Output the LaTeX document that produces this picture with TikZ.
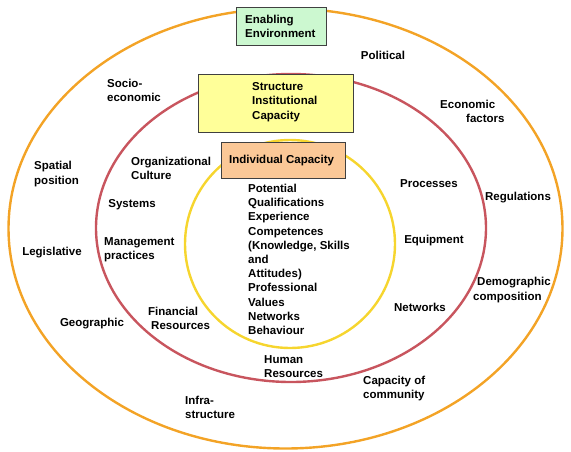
\documentclass[tikz,border=0pt]{standalone}
\usepackage{fontspec}
\setmainfont{Liberation Sans}
\definecolor{ringorange}{HTML}{F3A326}
\definecolor{ringred}{HTML}{C8555E}
\definecolor{ringyellow}{HTML}{F6D52E}
\definecolor{boxgreen}{HTML}{CCF8D0}
\definecolor{boxyellow}{HTML}{FFFF99}
\definecolor{boxorange}{HTML}{FBC897}
\tikzset{
  ring/.style={line width=2.4pt},
  lbl/.style={font=\fontsize{11.5}{14.2}\selectfont\bfseries, align=left, inner sep=0pt, text=black},
  hbox/.style={draw=black!75, line width=0.8pt, inner sep=0pt},
}
\begin{document}
\begin{tikzpicture}[x=1pt,y=-1pt]
\useasboundingbox (0,0) rectangle (571,451);
% rings
\draw[ring, ringorange] (285.5,228.5) ellipse [x radius=277, y radius=220];
\draw[ring, ringred] (291,228) ellipse [x radius=195, y radius=154];
\draw[ring, ringyellow] (290,244) ellipse [x radius=105, y radius=104];
% header boxes
\node[hbox, fill=boxgreen, minimum width=90pt, minimum height=38pt] (env) at (281,26) {};
\node[lbl, anchor=west] (envt) at (245,26) {Enabling\\Environment};
\node[hbox, fill=boxyellow, minimum width=155pt, minimum height=58pt] (str) at (275.5,103) {};
\node[lbl, anchor=west] (strt) at (252,102) {Structure\\Institutional\\Capacity};
\node[hbox, fill=boxorange, minimum width=124pt, minimum height=36pt] (ind) at (283,160) {};
\node[lbl, anchor=west] (indt) at (229,160.5) {Individual Capacity};
% individual list
\node[lbl, anchor=north west] (list) at (248,184) {Potential\\Qualifications\\Experience\\Competences\\(Knowledge, Skills\\and\\Attitudes)\\Professional\\Values\\Networks\\Behaviour};
% outer ring labels
\node[lbl] (pol) at (383,55) {Political};
\node[lbl, anchor=west] (eco) at (440,111.5) {Economic\\\hspace*{26pt}factors};
\node[lbl] (reg) at (518,198) {Regulations};
\node[lbl, anchor=west] (dem) at (473,290) {\hspace*{4pt}Demographic\\composition};
\node[lbl, anchor=west] (cap) at (363,388.5) {Capacity of\\community};
\node[lbl, anchor=west] (inf) at (185,407) {Infra-\\structure};
\node[lbl] (geo) at (92,324) {Geographic};
\node[lbl] (leg) at (52,253) {Legislative};
\node[lbl, anchor=west] (spa) at (34,174) {Spatial\\position};
\node[lbl, anchor=west] (soc) at (107,90.5) {Socio-\\economic};
% middle ring labels
\node[lbl, anchor=west] (org) at (131,168) {Organizational\\Culture};
\node[lbl] (sys) at (132,205) {Systems};
\node[lbl, anchor=west] (man) at (104,250) {Management\\practices};
\node[lbl, anchor=west] (fin) at (148,318) {Financial\\\hspace*{3pt}Resources};
\node[lbl, anchor=west] (hum) at (264,366.5) {Human\\Resources};
\node[lbl] (net) at (420,307) {Networks};
\node[lbl] (equ) at (434,241) {Equipment};
\node[lbl] (pro) at (429,184) {Processes};
\end{tikzpicture}
\end{document}
